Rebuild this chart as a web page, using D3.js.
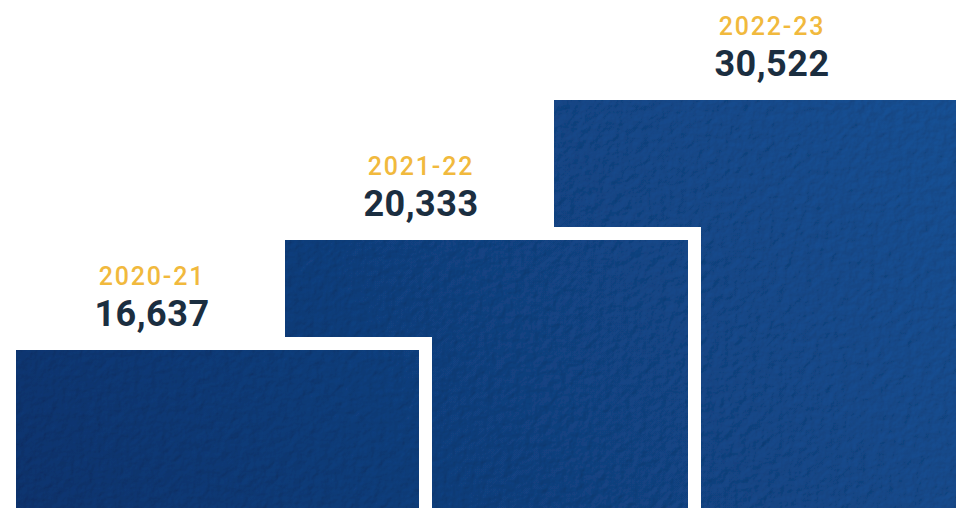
<!DOCTYPE html>
<html lang="en">
<head>
    <meta charset="UTF-8">
    <title>Yearly totals step chart</title>
    <script src="https://d3js.org/d3.v7.min.js"></script>
    <style>
        body {
            margin: 0;
            background: white;
            overflow: hidden;
        }
        svg {
            display: block;
        }
    </style>
</head>
<body>
    <div id="chart"></div>

    <script>
        const years = ["2020-21", "2021-22", "2022-23"];
        const totals = [16637, 20333, 30522];

        const width = 956,
              height = 508,
              border = 13,
              barWidth = 403;

        const svg = d3.select("#chart")
                      .append("svg")
                      .attr("width", width)
                      .attr("height", height);

        const defs = svg.append("defs");

        // blue gets a little lighter to the upper right
        const grad = defs.append("linearGradient")
                         .attr("id", "blue")
                         .attr("gradientUnits", "userSpaceOnUse")
                         .attr("x1", 0).attr("y1", height)
                         .attr("x2", width).attr("y2", 0);
        grad.append("stop").attr("offset", "0%").attr("stop-color", "#0f3572");
        grad.append("stop").attr("offset", "100%").attr("stop-color", "#17549a");

        // felt like texture
        const felt = defs.append("filter")
                         .attr("id", "felt")
                         .attr("x", 0).attr("y", 0)
                         .attr("width", 1).attr("height", 1);
        felt.append("feTurbulence")
            .attr("type", "fractalNoise")
            .attr("baseFrequency", 0.11)
            .attr("numOctaves", 4)
            .attr("seed", 7)
            .attr("result", "noise");
        felt.append("feDiffuseLighting")
            .attr("in", "noise")
            .attr("lighting-color", "#ffffff")
            .attr("surfaceScale", 1.1)
            .attr("result", "lit")
            .append("feDistantLight")
            .attr("azimuth", 225)
            .attr("elevation", 62);
        felt.append("feBlend")
            .attr("in", "SourceGraphic")
            .attr("in2", "lit")
            .attr("mode", "multiply");

        const x = d3.scalePoint()
                    .domain(years)
                    .range([16, 554]);

        // the steps are not to scale in the original, so map value -> top piecewise
        const y = d3.scaleLinear()
                    .domain(totals)
                    .range([350, 240, 100]);

        const data = years.map((yr, i) => ({year: yr, total: totals[i]}));

        // draw the tallest first so the smaller ones sit on top
        const bars = svg.selectAll("g.bar")
                        .data(data.slice().reverse())
                        .enter()
                        .append("g")
                        .attr("class", "bar");

        bars.append("rect")
            .attr("x", d => x(d.year) - border)
            .attr("y", d => y(d.total) - border)
            .attr("width", barWidth + border * 2)
            .attr("height", d => height + 20 - y(d.total) + border)
            .attr("fill", "white");

        bars.append("rect")
            .attr("x", d => x(d.year))
            .attr("y", d => y(d.total))
            .attr("width", barWidth)
            .attr("height", d => height + 20 - y(d.total))
            .attr("fill", "url(#blue)")
            .style("filter", "url(#felt)");

        // label sits over the part of the top that is not covered by the next step
        function labelX(d) {
            const i = years.indexOf(d.year);
            const left = x(d.year);
            const right = i < years.length - 1 ? x(years[i + 1]) - border : width;
            return (left + right) / 2 + (i < years.length - 1 ? 8 : 17);
        }

        const fmt = d3.format(",");

        svg.selectAll("text.year")
           .data(data)
           .enter()
           .append("text")
           .attr("class", "year")
           .attr("x", labelX)
           .attr("y", d => y(d.total) - 65)
           .attr("text-anchor", "middle")
           .attr("fill", "#f1b93d")
           .style("font-family", "Roboto, sans-serif")
           .style("font-size", "25px")
           .style("font-weight", "500")
           .style("letter-spacing", "1.8px")
           .text(d => d.year);

        svg.selectAll("text.total")
           .data(data)
           .enter()
           .append("text")
           .attr("class", "total")
           .attr("x", labelX)
           .attr("y", d => y(d.total) - 24)
           .attr("text-anchor", "middle")
           .attr("fill", "#1b2e40")
           .style("font-family", "Roboto, sans-serif")
           .style("font-size", "36px")
           .style("font-weight", "bold")
           .style("letter-spacing", "0.5px")
           .text(d => fmt(d.total));
    </script>
</body>
</html>
